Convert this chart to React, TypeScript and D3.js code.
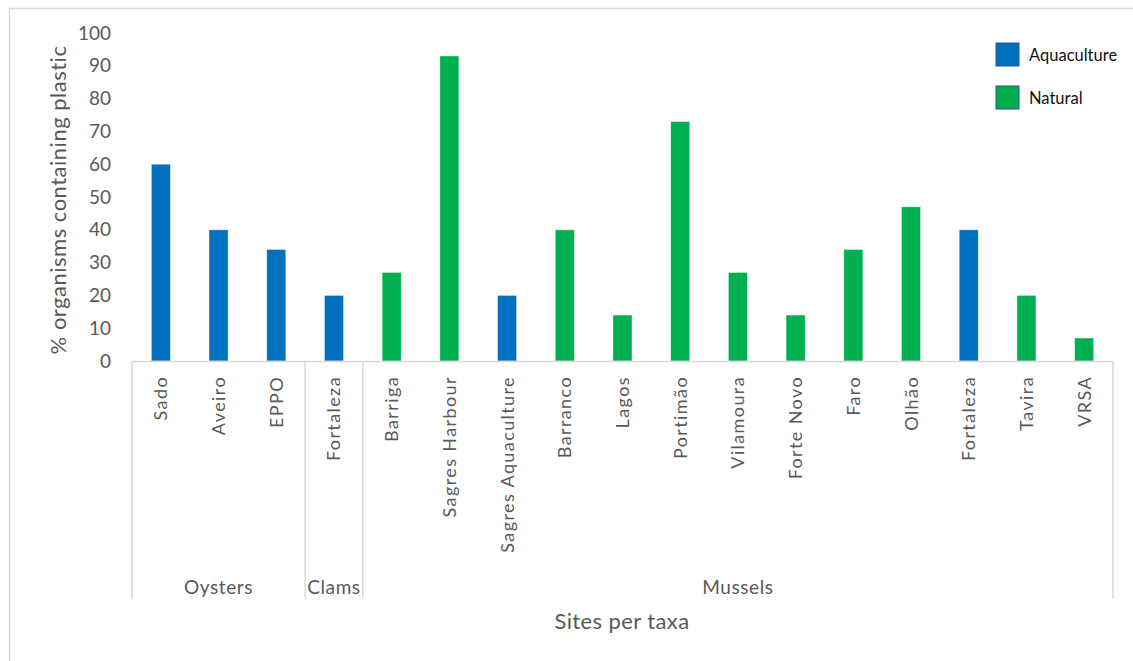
import React, { useEffect, useRef } from "react";
import * as d3 from "d3";

const sites = [
  "Sado", "Aveiro", "EPPO", "Fortaleza", "Barriga", "Sagres Harbour", "Sagres Aquaculture",
  "Barranco", "Lagos", "Portimão", "Vilamoura", "Forte Novo", "Faro", "Olhão", "Fortaleza",
  "Tavira", "VRSA",
];
const values = [60, 40, 34, 20, 27, 93, 20, 40, 14, 73, 27, 14, 34, 47, 40, 20, 7];
const types = [
  "Aquaculture", "Aquaculture", "Aquaculture", "Aquaculture", "Natural", "Natural", "Aquaculture",
  "Natural", "Natural", "Natural", "Natural", "Natural", "Natural", "Natural", "Aquaculture",
  "Natural", "Natural",
];
const groups = ["Oysters", "Clams", "Mussels"];
const groupSizes = [3, 1, 13];
const legendItems = ["Aquaculture", "Natural"];
const colors: Record<string, string> = { Aquaculture: "#0070C0", Natural: "#00B050" };
const yTicks = [0, 10, 20, 30, 40, 50, 60, 70, 80, 90, 100];

const W = 1133;
const H = 661;
const FONT = "Lato, 'Open Sans', sans-serif";
const TEXT = "#595959";

export default function App() {
  const ref = useRef<SVGSVGElement>(null);

  useEffect(() => {
    const svg = d3.select(ref.current);
    svg.selectAll("*").remove();

    const left = 132, right = 1113, top = 33, bottom = 361, lowBottom = 599;
    const idx = sites.map((_, i) => String(i));
    const x = d3.scaleBand<string>().domain(idx).range([left, right]).paddingInner(0.67).paddingOuter(0.335);
    const y = d3.scaleLinear().domain([0, 100]).range([bottom, top]);
    const step = x.step();

    // outer border
    svg.append("rect").attr("x", 9.5).attr("y", 8.5).attr("width", W + 20).attr("height", H + 20)
      .attr("fill", "none").attr("stroke", "#d9d9d9").attr("stroke-width", 1.5);

    // y ticks
    svg.append("g").selectAll("text").data(yTicks).join("text")
      .attr("x", 111).attr("y", (d) => y(d)).attr("dy", "0.35em")
      .attr("text-anchor", "end").attr("font-family", FONT).attr("font-size", 19)
      .attr("fill", TEXT).text((d) => d);

    // y title
    svg.append("text")
      .attr("transform", `translate(66,${(top + bottom) / 2 + 3}) rotate(-90)`)
      .attr("text-anchor", "middle").attr("font-family", FONT).attr("font-size", 22)
      .attr("letter-spacing", 0.5)
      .attr("fill", TEXT).text("% organisms containing plastic");

    // bars
    svg.append("g").selectAll("rect").data(values).join("rect")
      .attr("x", (_, i) => x(String(i))!).attr("width", x.bandwidth())
      .attr("y", (d) => y(d)).attr("height", (d) => y(0) - y(d))
      .attr("fill", (_, i) => colors[types[i]])
      .attr("stroke", "#ffffff").attr("stroke-opacity", 0.5).attr("stroke-width", 0.8);

    // axis line
    svg.append("line").attr("x1", left).attr("x2", right).attr("y1", bottom + 0.5).attr("y2", bottom + 0.5)
      .attr("stroke", "#d9d9d9").attr("stroke-width", 1.5);

    // group separators
    let acc = 0;
    const bounds = [0];
    groupSizes.forEach((s) => { acc += s; bounds.push(acc); });
    svg.append("g").selectAll("line").data(bounds).join("line")
      .attr("x1", (b) => left + b * step).attr("x2", (b) => left + b * step)
      .attr("y1", bottom).attr("y2", lowBottom)
      .attr("stroke", "#d9d9d9").attr("stroke-width", 1.5);

    // category labels
    svg.append("g").selectAll("text").data(sites).join("text")
      .attr("transform", (_, i) => `translate(${x(String(i))! + x.bandwidth() / 2 + 6.5},376) rotate(-90)`)
      .attr("text-anchor", "end").attr("font-family", FONT).attr("font-size", 18)
      .attr("letter-spacing", 1.4)
      .attr("fill", TEXT).text((d) => d);

    // group labels
    svg.append("g").selectAll("text").data(groups).join("text")
      .attr("x", (_, i) => left + ((bounds[i] + bounds[i + 1]) / 2) * step)
      .attr("y", 594).attr("text-anchor", "middle").attr("font-family", FONT).attr("font-size", 19)
      .attr("letter-spacing", 0.6)
      .attr("fill", TEXT).text((d) => d);

    // x title
    svg.append("text").attr("x", 622).attr("y", 629).attr("text-anchor", "middle")
      .attr("font-family", FONT).attr("font-size", 22).attr("letter-spacing", 0.4)
      .attr("fill", TEXT).text("Sites per taxa");

    // legend
    const lg = svg.append("g").selectAll("g").data(legendItems).join("g")
      .attr("transform", (_, i) => `translate(996,${43 + i * 43})`);
    lg.append("rect").attr("width", 23).attr("height", 23)
      .attr("fill", (d) => colors[d]).attr("stroke", "#2F528F").attr("stroke-width", 1);
    lg.append("text").attr("x", 33).attr("y", 12).attr("dy", "0.35em")
      .attr("font-family", FONT).attr("font-size", 16.5).attr("fill", "#111").text((d) => d);
  }, []);

  return (
    <svg ref={ref} width={W} height={H}
      style={{ position: "absolute", left: 0, top: 0, display: "block", background: "#fff" }} />
  );
}
